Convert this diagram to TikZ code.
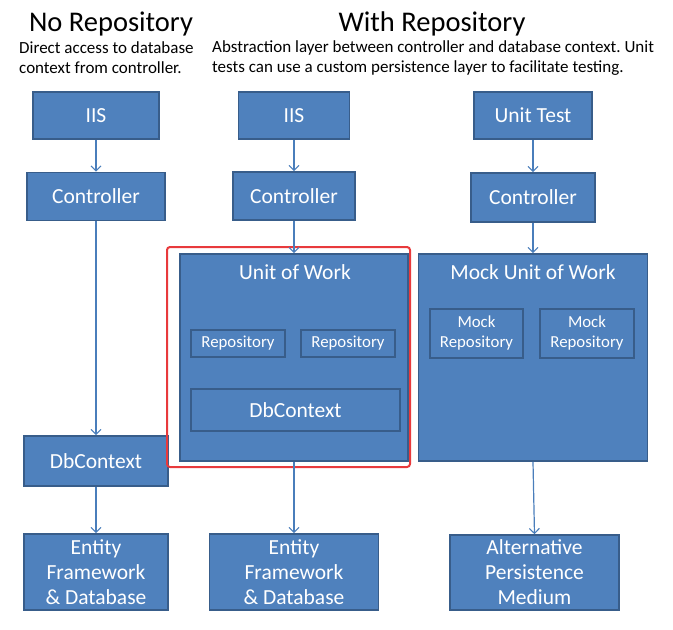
\documentclass[tikz,border=0pt]{standalone}
\usepackage{fontspec}
\setmainfont{Carlito}
\usetikzlibrary{arrows.meta}
\definecolor{boxfill}{RGB}{79,129,189}
\definecolor{boxline}{RGB}{56,93,138}
\definecolor{arrowc}{RGB}{74,126,187}
\definecolor{redline}{RGB}{232,58,60}
\frenchspacing
\begin{document}
\begin{tikzpicture}[x=1pt,y=-1pt,
  box/.style={draw=boxline, fill=boxfill, line width=1.6pt, text=white,
    font=\fontsize{21.5}{25}\selectfont, align=center, inner sep=0pt},
  smallbox/.style={box, font=\fontsize{16.8}{20}\selectfont},
  boxlabel/.style={text=white, font=\fontsize{21.5}{25}\selectfont, inner sep=0pt},
  arr/.style={draw=arrowc, line width=1.2pt, -{Straight Barb[length=5pt,width=10pt,line width=1.1pt]}},
  title/.style={font=\fontsize{28.5}{30}\selectfont, inner sep=0pt},
  subtitle/.style={font=\fontsize{17}{20}\selectfont, align=left, anchor=west, inner sep=0pt}]
\useasboundingbox (0,0) rectangle (673,630);
% titles
\node[title] (t1) at (111,23.5) {No Repository};
\node[title] (t2) at (432,23.5) {With Repository};
\node[subtitle] (s1) at (19,58) {Direct access to database\\context from controller.};
\node[subtitle] (s2) at (212,58) {Abstraction layer between controller and database context. Unit\\tests can use a custom persistence layer to facilitate testing.};
% column 1
\node[box, minimum width=126, minimum height=47] (iis1) at (96,115.5) {IIS};
\node[box, minimum width=138, minimum height=48] (ctl1) at (96,196.5) {Controller};
\node[box, minimum width=144, minimum height=50] (db1) at (96,461) {DbContext};
\node[box, minimum width=144, minimum height=76] (ef1) at (96,572) {Entity\\Framework\\\& Database};
% column 2
\draw[redline, line width=2pt, rounded corners=3pt] (167,247) rectangle (410,467);
\node[box, minimum width=111, minimum height=47] (iis2) at (294,115.5) {IIS};
\node[box, minimum width=122, minimum height=48] (ctl2) at (294,196) {Controller};
\node[box, minimum width=228, minimum height=207] (uow) at (294,357.5) {};
\node[boxlabel] (uowl) at (295,272) {Unit of Work};
\node[smallbox, minimum width=94, minimum height=27] (rep1) at (238,343.5) {Repository};
\node[smallbox, minimum width=94, minimum height=27] (rep2) at (348,343.5) {Repository};
\node[box, minimum width=209, minimum height=42] (db2) at (295.5,410) {DbContext};
\node[box, minimum width=169, minimum height=76] (ef2) at (294,572) {Entity\\Framework\\\& Database};
% column 3
\node[box, minimum width=118, minimum height=47] (ut) at (533,115.5) {Unit Test};
\node[box, minimum width=124, minimum height=49] (ctl3) at (533,197.5) {Controller};
\node[box, minimum width=229, minimum height=207] (muow) at (533,357.5) {};
\node[boxlabel] (muowl) at (533,272) {Mock Unit of Work};
\node[smallbox, minimum width=93, minimum height=49] (mrep1) at (476.5,333.5) {Mock\\Repository};
\node[smallbox, minimum width=94, minimum height=49] (mrep2) at (587,333.5) {Mock\\Repository};
\node[box, minimum width=169, minimum height=75] (alt) at (534.5,572.5) {Alternative\\Persistence\\Medium};
% arrows
\draw[arr] (iis1) -- (ctl1);
\draw[arr] (ctl1) -- (db1);
\draw[arr] (db1) -- (ef1);
\draw[arr] (iis2) -- (ctl2);
\draw[arr] (ctl2) -- (uow);
\draw[arr] (uow) -- (ef2);
\draw[arr] (ut) -- (ctl3);
\draw[arr] (ctl3) -- (muow);
\draw[arr] (muow.south) -- (alt.north);
\end{tikzpicture}
\end{document}
